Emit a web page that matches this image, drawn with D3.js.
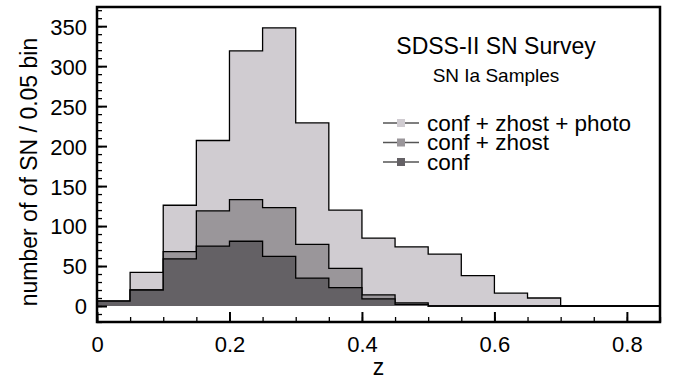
<!DOCTYPE html>
<html>
<head>
<meta charset="utf-8">
<script src="https://cdn.jsdelivr.net/npm/d3@7"></script>
<style>
  body { margin: 0; background: #fff; }
  text { font-family: "Liberation Sans", Arial, sans-serif; fill: #000; }
</style>
</head>
<body>
<svg width="683" height="381"></svg>
<script>
// bin left edges (0.05 wide)
var binStarts = [0, 0.05, 0.10, 0.15, 0.20, 0.25, 0.30, 0.35, 0.40, 0.45, 0.50, 0.55, 0.60, 0.65, 0.70, 0.75, 0.80]
var photoCounts = [6, 42, 126, 207, 319, 348, 229, 120, 85, 74, 65, 38, 16, 10, 0, 0, 0]
var zhostCounts = [6, 20, 68, 119, 133, 123, 77, 47, 14, 4, 0, 0, 0, 0, 0, 0, 0]
var confCounts  = [6, 20, 59, 75, 81, 62, 35, 23, 9, 2, 0, 0, 0, 0, 0, 0, 0]

var seriesNames = ["conf + zhost + photo", "conf + zhost", "conf"]
var seriesColors = ["#d0ccd1", "#9a969a", "#646165"]

var xMajor = [0, 0.2, 0.4, 0.6, 0.8]
var yMajor = [0, 50, 100, 150, 200, 250, 300, 350]

var svg = d3.select("svg"),
  width = +svg.attr("width"),
  height = +svg.attr("height");

var margin = {top: 7, right: 23, bottom: 59, left: 97}

var x = d3.scaleLinear().domain([0, 0.85]).range([margin.left, width - margin.right])
var y = d3.scaleLinear().domain([-20, 374]).range([height - margin.bottom, margin.top])

const g = svg.append("g")

function stepData(counts) {
  var pts = binStarts.map((b, i) => [b, counts[i]])
  pts.push([0.85, counts[counts.length - 1]])
  return pts
}

var area = d3.area()
  .curve(d3.curveStepAfter)
  .x(d => x(d[0]))
  .y0(y(0))
  .y1(d => y(d[1]))

var line = d3.line()
  .curve(d3.curveStepAfter)
  .x(d => x(d[0]))
  .y(d => y(d[1]))

var allSeries = [photoCounts, zhostCounts, confCounts]

allSeries.forEach((counts, i) => {
  g.append("path")
    .attr("d", area(stepData(counts)))
    .attr("fill", seriesColors[i])
  g.append("path")
    .attr("d", line(stepData(counts)))
    .attr("fill", "none")
    .attr("stroke", "#000")
    .attr("stroke-width", 1.3)
})

// minor ticks
var yMinor = d3.range(-20, 371, 10)
var xMinor = d3.range(0, 0.851, 0.05)

svg.append("g")
  .attr("transform", "translate(" + margin.left + ",0)")
  .call(d3.axisLeft(y).tickValues(yMinor).tickSize(-5).tickFormat(""))
  .call(a => a.select(".domain").remove())
  .selectAll("line").attr("stroke-width", 1.3)

svg.append("g")
  .attr("transform", "translate(0," + (height - margin.bottom) + ")")
  .call(d3.axisBottom(x).tickValues(xMinor).tickSize(-5).tickFormat(""))
  .call(a => a.select(".domain").remove())
  .selectAll("line").attr("stroke-width", 1.3)

// major ticks + labels
var yAxis = svg.append("g")
  .attr("transform", "translate(" + margin.left + ",0)")
  .call(d3.axisLeft(y).tickValues(yMajor).tickSize(-10).tickPadding(10).tickFormat(d3.format("d")))
yAxis.select(".domain").remove()
yAxis.selectAll("line").attr("stroke-width", 2)
yAxis.selectAll("text").style("font-size", "22px").attr("dy", "0.36em")

var xAxis = svg.append("g")
  .attr("transform", "translate(0," + (height - margin.bottom) + ")")
  .call(d3.axisBottom(x).tickValues(xMajor).tickSize(-10).tickPadding(14).tickFormat(d => d === 0 ? "0" : d3.format(".1f")(d)))
xAxis.select(".domain").remove()
xAxis.selectAll("line").attr("stroke-width", 2)
xAxis.selectAll("text").style("font-size", "22px")

// frame
svg.append("rect")
  .attr("x", margin.left)
  .attr("y", margin.top)
  .attr("width", width - margin.left - margin.right)
  .attr("height", height - margin.top - margin.bottom)
  .attr("fill", "none")
  .attr("stroke", "#000")
  .attr("stroke-width", 2.5)

// axis titles
svg.append("text")
  .attr("x", (margin.left + width - margin.right) / 2)
  .attr("y", 375)
  .attr("text-anchor", "middle")
  .style("font-size", "23px")
  .text("z")

svg.append("text")
  .attr("transform", "translate(37," + 172 + ") rotate(-90)")
  .attr("text-anchor", "middle")
  .style("font-size", "23px")
  .text("number of of SN / 0.05 bin")

// titles inside plot
svg.append("text")
  .attr("x", 496)
  .attr("y", 54)
  .attr("text-anchor", "middle")
  .style("font-size", "23px")
  .text("SDSS-II SN Survey")

svg.append("text")
  .attr("x", 496)
  .attr("y", 82)
  .attr("text-anchor", "middle")
  .style("font-size", "19px")
  .text("SN Ia Samples")

// legend
var legend = svg.append("g").attr("transform", "translate(383, 123)")
seriesNames.forEach((name, i) => {
  var row = legend.append("g").attr("transform", "translate(0," + (i * 19.5) + ")")
  row.append("line")
    .attr("x1", 0).attr("x2", 36)
    .attr("stroke", "#555").attr("stroke-width", 1.3)
  row.append("rect")
    .attr("x", 14).attr("y", -4)
    .attr("width", 8).attr("height", 8)
    .attr("fill", seriesColors[i])
  row.append("text")
    .attr("x", 44)
    .attr("dy", "0.35em")
    .style("font-size", "22.5px")
    .text(name)
})
</script>
</body>
</html>
